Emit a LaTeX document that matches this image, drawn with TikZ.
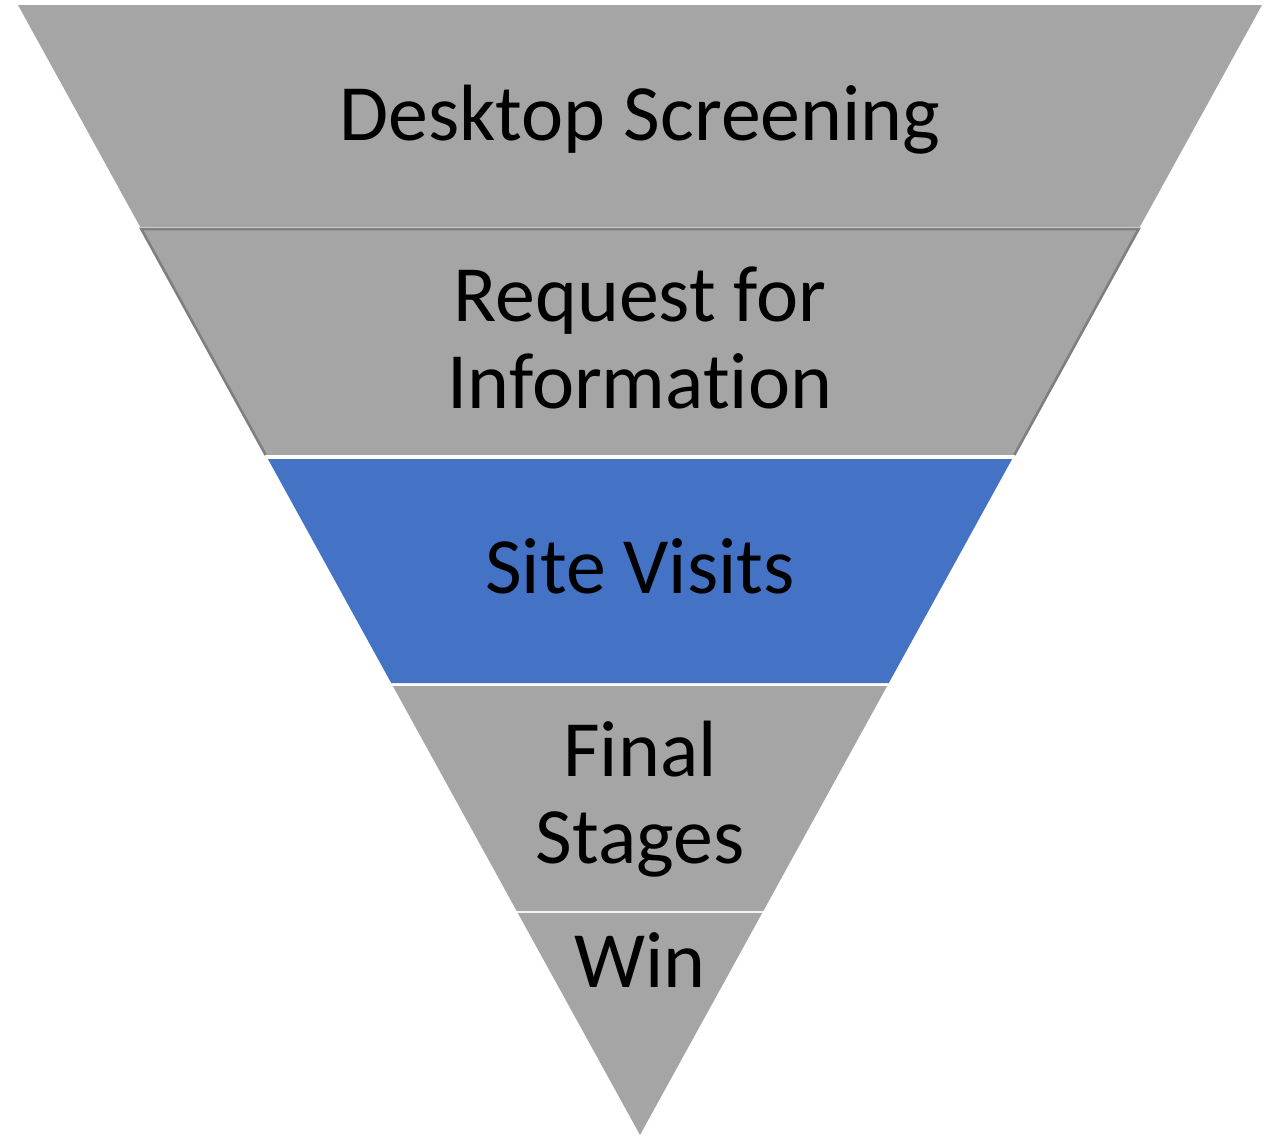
\documentclass[tikz,border=0pt]{standalone}
\usepackage{fontspec}
\setmainfont{Carlito}[Ligatures=NoCommon]
\usetikzlibrary{calc}
\definecolor{funnelGray}{HTML}{A5A5A5}
\definecolor{funnelBlue}{HTML}{4472C4}
\definecolor{funnelEdge}{HTML}{7F7F7F}
\newcommand{\stageFont}[0]{\fontsize{39.9}{43.3}\selectfont}

\begin{document}
\begin{tikzpicture}[x=0.5pt, y=-0.5pt]
  \tikzset{stage/.style={align=center,anchor=base,font=\stageFont,inner sep=0pt}}
  \useasboundingbox (0,0) rectangle (1273,1136);
  \coordinate (TL) at (18,5);
  \coordinate (TR) at (1262,5);
  \coordinate (apex) at (640,1135);
  % bands of the funnel, top to bottom
  \foreach \ya/\yb/\col in {0/0.1965/funnelGray, 0.1982/0.3982/funnelGray, 0.4018/0.6/funnelBlue, 0.6027/0.8018/funnelGray}
    \fill[\col] ($(TL)!\ya!(apex)$) -- ($(TR)!\ya!(apex)$) -- ($(TR)!\yb!(apex)$) -- ($(TL)!\yb!(apex)$) -- cycle;
  \fill[funnelGray] ($(TL)!0.8035!(apex)$) -- ($(TR)!0.8035!(apex)$) -- (apex) -- cycle;
  \draw[funnelEdge, line width=1.3pt] ($(TL)!0.3982!(apex)$) -- ($(TL)!0.1982!(apex)$) -- ($(TR)!0.1982!(apex)$) -- ($(TR)!0.3982!(apex)$);
  % labels (base = last line)
  \node[stage] (desktop) at (640,140) {Desktop Screening};
  \node[stage] (rfi) at (640,408.3) {Request for\\Information};
  \node[stage] (visits) at (640,593.3) {Site Visits};
  \node[stage] (final) at (640,863.3) {Final\\Stages};
  \node[stage] (win) at (640,987.3) {Win};
\end{tikzpicture}
\end{document}
